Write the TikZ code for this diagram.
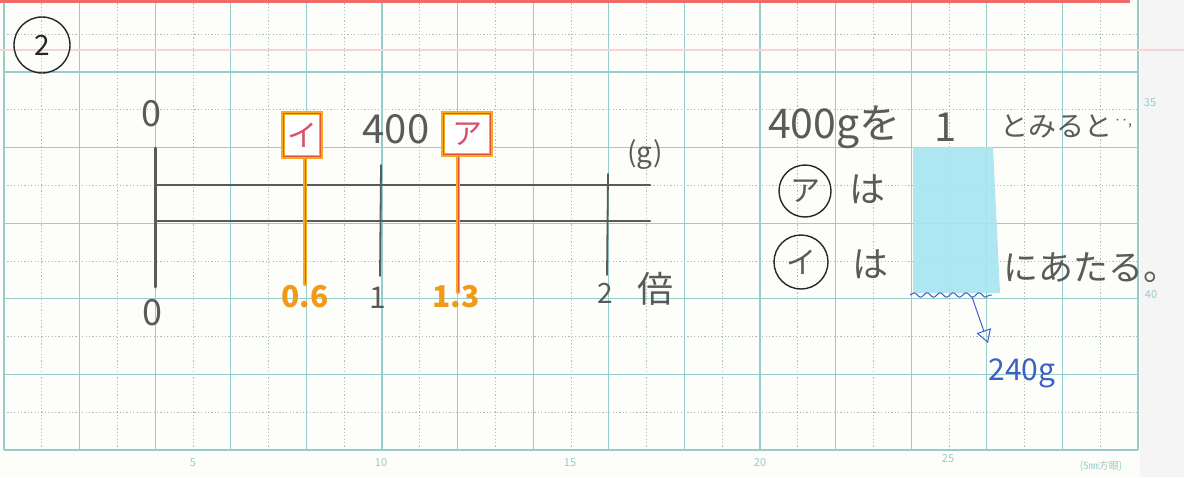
\documentclass[tikz,border=0pt]{standalone}
\usepackage{fontspec}
\setmainfont{Noto Sans CJK JP}
\usetikzlibrary{arrows.meta,decorations.pathmorphing,shapes.geometric}
\definecolor{paper}{HTML}{FDFDF9}
\definecolor{gridc}{HTML}{96CDCA}
\definecolor{dotc}{HTML}{A9BDBC}
\definecolor{pencil}{HTML}{5A5A5A}
\definecolor{hiorange}{HTML}{F5AA22}
\definecolor{numorange}{HTML}{F09A18}
\definecolor{redink}{HTML}{E5533A}
\definecolor{pinkink}{HTML}{D9506A}
\definecolor{tape}{HTML}{A6E5F1}
\definecolor{blueink}{HTML}{3E5FC8}
\definecolor{redline}{HTML}{F26B6B}
\definecolor{pinkline}{HTML}{F9D3D3}
\tikzset{
  gridsolid/.style={draw=gridc,line width=1.1pt},
  griddot/.style={draw=dotc,line width=0.8pt,dash pattern=on 1.2pt off 2.2pt},
  gridlab/.style={text=gridc,font=\fontsize{11}{11}\selectfont,inner sep=0pt},
  pen/.style={text=pencil,inner sep=0pt},
  axisline/.style={draw=pencil,line width=2.2pt,line cap=round},
  tickline/.style={draw=pencil,line width=1.8pt,line cap=round},
  hiline/.style={draw=hiorange,line width=4pt,line cap=round},
  hicore/.style={draw=redink,line width=1pt},
  markbox/.style={draw=hiorange,line width=4.5pt,fill=white,minimum width=38pt,minimum height=44pt,inner sep=0pt,text=pinkink,font=\fontsize{30}{30}\selectfont},
  markboxin/.style={draw=redink,line width=1pt},
  orangenum/.style={text=numorange,inner sep=0pt,font=\fontsize{30}{30}\selectfont\bfseries},
  circ/.style={circle,draw=black!85,line width=1.4pt,inner sep=0pt,minimum size=#1,text=pencil},
}
\begin{document}
\begin{tikzpicture}[x=1pt,y=-1pt]
\useasboundingbox (0,0) rectangle (1184,477);
\fill[paper] (0,0) rectangle (1184,477);
\fill[black!4] (1140,0) rectangle (1184,477);
% grid
\foreach \k in {1,3,...,29} \draw[griddot] ({4+37.8*\k},0) -- ({4+37.8*\k},450);
\foreach \m in {0,...,5} \draw[griddot] (4,{34.2+75.6*\m}) -- (1138,{34.2+75.6*\m});
\foreach \k in {0,2,...,30} \draw[gridsolid] ({4+37.8*\k},0) -- ({4+37.8*\k},450);
\foreach \m in {0,...,5} \draw[gridsolid] (4,{72+75.6*\m}) -- (1138,{72+75.6*\m});
\draw[gridc,line width=2pt] (4,450) -- (1138,450);
\draw[redline,line width=4pt] (0,1) -- (1130,1);
\draw[pinkline,line width=2pt] (0,50) -- (1184,50);
% grid labels
\node[gridlab] (g5) at (193,463) {5};
\node[gridlab] (g10) at (381,463) {10};
\node[gridlab] (g15) at (570,463) {15};
\node[gridlab] (g20) at (760,463) {20};
\node[gridlab] (g25) at (948,459) {25};
\node[gridlab,font=\fontsize{10}{10}\selectfont] (g5mm) at (1101,466) {(5㎜方眼)};
\node[gridlab] (g35) at (1150,103) {35};
\node[gridlab] (g40) at (1151,295) {40};
% problem number
\node[circ=56pt,text=black!85,font=\fontsize{28}{28}\selectfont] (num) at (42,45) {2};
% tape diagram
\coordinate (vtop) at (155,148);
\coordinate (vbot) at (155,287);
\coordinate (ulL) at (155,185);
\coordinate (ulR) at (650,185);
\coordinate (llL) at (155,221);
\coordinate (llR) at (650,221);
\coordinate (t1a) at (381,165);
\coordinate (t1b) at (380,276);
\coordinate (t2a) at (608,174);
\coordinate (t2b) at (607,275);
\draw[axisline,line width=3pt] (vtop) -- (vbot);
\draw[axisline] (ulL) -- (ulR);
\draw[axisline] (llL) -- (llR);
\draw[tickline] (t1a) -- (t1b);
\draw[tickline] (t2a) -- (t2b);
% marks
\node[markbox] (boxI) at (302,135) {イ};
\node[markbox,minimum width=48pt,minimum height=42pt] (boxA) at (467,134) {ア};
\draw[markboxin] ([shift={(3,-3)}]boxI.south west) rectangle ([shift={(-3,3)}]boxI.north east);
\draw[markboxin] ([shift={(3,-3)}]boxA.south west) rectangle ([shift={(-3,3)}]boxA.north east);
\coordinate (iEnd) at (305,284);
\coordinate (aEnd) at (458,292);
\draw[hiline] (boxI.south -| iEnd) -- (iEnd);
\draw[hicore] (boxI.south -| iEnd) -- (iEnd);
\draw[hiline] (boxA.south -| aEnd) -- (aEnd);
\draw[hicore] (boxA.south -| aEnd) -- (aEnd);
% labels
\node[pen,font=\fontsize{36}{36}\selectfont] (z0top) at (151,114) {0};
\node[pen,font=\fontsize{36}{36}\selectfont] (z0bot) at (152,313) {0};
\node[pen,font=\fontsize{40}{40}\selectfont] (v400) at (396,129) {400};
\node[pen,font=\fontsize{28}{28}\selectfont] (unitg) at (645,155) {(g)};
\node[orangenum] (n06) at (305,297) {0.6};
\node[pen,font=\fontsize{30}{30}\selectfont] (n1) at (378,298) {1};
\node[orangenum] (n13) at (456,297) {1.3};
\node[pen,font=\fontsize{28}{28}\selectfont] (n2) at (605,293) {2};
\node[pen,font=\fontsize{36}{36}\selectfont] (bai) at (655,289) {倍};
% right text
\node[pen,anchor=west,font=\fontsize{41}{41}\selectfont] (s1) at (768,127) {400gを};
\node[pen,font=\fontsize{40}{40}\selectfont] (one) at (946,127) {1};
\node[pen,anchor=west,font=\fontsize{28}{28}\selectfont] (s2) at (1000,126) {とみると};
\node[pen,anchor=west,font=\fontsize{14}{14}\selectfont] (dots) at (1114,124) {‥,};
% tape answer box
\fill[tape,fill opacity=0.9] (913,147) -- (993,147) -- (1000,293) -- (913,293) -- cycle;
\coordinate (wavL) at (910,295);
\coordinate (wavR) at (992,295);
\draw[blueink,line width=1pt,decorate,decoration={snake,amplitude=2.2pt,segment length=13pt}] (wavL) -- (wavR);
\node[circ=52pt,font=\fontsize{30}{30}\selectfont] (cA) at (805,191) {ア};
\node[pen,font=\fontsize{36}{36}\selectfont] (ha1) at (867,189) {は};
\node[circ=54pt,font=\fontsize{30}{30}\selectfont] (cI) at (801,262) {イ};
\node[pen,font=\fontsize{36}{36}\selectfont] (ha2) at (870,264) {は};
\node[pen,anchor=west,font=\fontsize{35}{35}\selectfont] (s3) at (1003,268) {にあたる。};
% answer arrow
\node[text=blueink,inner sep=0pt,font=\fontsize{30}{30}\selectfont] (v240) at (1022,373) {240g};
\coordinate (arrS) at (972,297);
\coordinate (arrE) at (988,343);
\draw[blueink,line width=1pt,-{Triangle[open,length=13pt,width=15pt]}] (arrS) -- (arrE);
\end{tikzpicture}
\end{document}
